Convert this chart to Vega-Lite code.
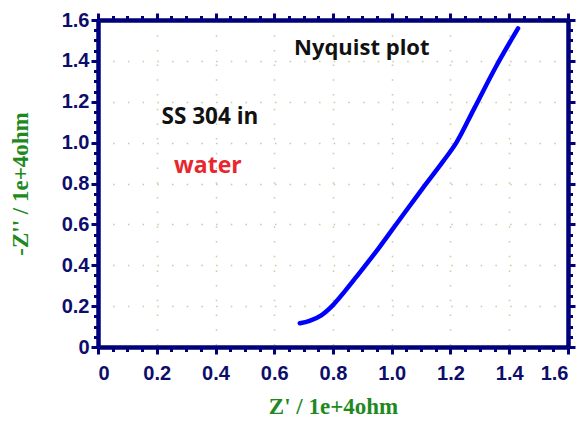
{
  "$schema": "https://vega.github.io/schema/vega-lite/v6.json",
  "width": 470,
  "height": 327,
  "autosize": {"type": "none"},
  "padding": {"left": 98, "top": 20, "right": 20, "bottom": 77},
  "background": "white",
  "datasets": {
    "curve": [
      {"zr": 0.687, "zi": 0.116},
      {"zr": 0.72, "zi": 0.128},
      {"zr": 0.76, "zi": 0.155},
      {"zr": 0.80, "zi": 0.205},
      {"zr": 0.84, "zi": 0.272},
      {"zr": 0.88, "zi": 0.344},
      {"zr": 0.959, "zi": 0.49},
      {"zr": 1.027, "zi": 0.624},
      {"zr": 1.107, "zi": 0.78},
      {"zr": 1.174, "zi": 0.907},
      {"zr": 1.22, "zi": 1.0},
      {"zr": 1.28, "zi": 1.165},
      {"zr": 1.356, "zi": 1.375},
      {"zr": 1.43, "zi": 1.559}
    ],
    "notes": [
      {"zr": 0.898, "zi": 1.463, "label": "Nyquist plot", "kind": "title"},
      {"zr": 0.381, "zi": 1.125, "label": "SS 304 in", "kind": "sample"},
      {"zr": 0.374, "zi": 0.886, "label": "water", "kind": "medium"}
    ]
  },
  "layer": [
    {
      "data": {"name": "curve"},
      "mark": {"type": "line", "color": "#0000ff", "strokeWidth": 4.5, "interpolate": "monotone", "strokeCap": "round", "strokeJoin": "round"},
      "encoding": {
        "x": {
          "field": "zr", "type": "quantitative",
          "scale": {"domain": [0, 1.6], "nice": false, "zero": false},
          "axis": {
            "orient": "bottom", "values": [0, 0.2, 0.4, 0.6, 0.8, 1.0, 1.2, 1.4, 1.6],
            "title": "Z' / 1e+4ohm",
            "labelExpr": "datum.value == 0 ? '0' : format(datum.value, '.1f')",
            "grid": true, "gridColor": "#c9c9a3", "gridDash": [1.5, 13.2], "gridWidth": 1.5,
            "domainColor": "#00007a", "domainWidth": 4.5,
            "tickColor": "#00007a", "tickWidth": 3, "tickSize": 7,
            "labelFont": "Liberation Sans", "labelFontWeight": "bold", "labelFontSize": 20, "labelColor": "#0d0d6b", "labelPadding": 9,
            "titleFont": "Liberation Serif", "titleFontWeight": "bold", "titleFontSize": 23, "titleColor": "#1e8a1e", "titlePadding": 12
          }
        },
        "y": {
          "field": "zi", "type": "quantitative",
          "scale": {"domain": [0, 1.6], "nice": false, "zero": false},
          "axis": {
            "orient": "left", "values": [0, 0.2, 0.4, 0.6, 0.8, 1.0, 1.2, 1.4, 1.6],
            "title": "-Z'' / 1e+4ohm",
            "labelExpr": "datum.value == 0 ? '0' : format(datum.value, '.1f')",
            "grid": true, "gridColor": "#c9c9a3", "gridDash": [1.5, 13.2], "gridWidth": 1.5,
            "domainColor": "#00007a", "domainWidth": 4.5,
            "tickColor": "#00007a", "tickWidth": 3, "tickSize": 7,
            "labelFont": "Liberation Sans", "labelFontWeight": "bold", "labelFontSize": 20, "labelColor": "#0d0d6b", "labelPadding": 2,
            "titleFont": "Liberation Serif", "titleFontWeight": "bold", "titleFontSize": 23, "titleColor": "#1e8a1e", "titlePadding": 29
          }
        }
      }
    },
    {
      "data": {"name": "curve"},
      "mark": {"type": "point", "opacity": 0},
      "encoding": {
        "x": {"field": "zr", "type": "quantitative",
          "axis": {"orient": "top", "values": [0, 0.2, 0.4, 0.6, 0.8, 1.0, 1.2, 1.4, 1.6], "labels": false, "title": null, "grid": false,
            "domainColor": "#00007a", "domainWidth": 4.5, "tickColor": "#00007a", "tickWidth": 3, "tickSize": 7}},
        "y": {"field": "zi", "type": "quantitative",
          "axis": {"orient": "right", "values": [0, 0.2, 0.4, 0.6, 0.8, 1.0, 1.2, 1.4, 1.6], "labels": false, "title": null, "grid": false,
            "domainColor": "#00007a", "domainWidth": 4.5, "tickColor": "#00007a", "tickWidth": 3, "tickSize": 7}}
      }
    },
    {
      "data": {"name": "curve"},
      "mark": {"type": "point", "opacity": 0},
      "encoding": {
        "x": {"field": "zr", "type": "quantitative",
          "axis": {"orient": "bottom", "values": [0.05, 0.1, 0.15, 0.25, 0.3, 0.35, 0.45, 0.5, 0.55, 0.65, 0.7, 0.75, 0.85, 0.9, 0.95, 1.05, 1.1, 1.15, 1.25, 1.3, 1.35, 1.45, 1.5, 1.55], "labels": false, "title": null, "grid": false, "domain": false,
            "tickColor": "#00007a", "tickWidth": 3, "tickSize": 4.5}},
        "y": {"field": "zi", "type": "quantitative",
          "axis": {"orient": "left", "values": [0.05, 0.1, 0.15, 0.25, 0.3, 0.35, 0.45, 0.5, 0.55, 0.65, 0.7, 0.75, 0.85, 0.9, 0.95, 1.05, 1.1, 1.15, 1.25, 1.3, 1.35, 1.45, 1.5, 1.55], "labels": false, "title": null, "grid": false, "domain": false,
            "tickColor": "#00007a", "tickWidth": 3, "tickSize": 4.5}}
      }
    },
    {
      "data": {"name": "curve"},
      "mark": {"type": "point", "opacity": 0},
      "encoding": {
        "x": {"field": "zr", "type": "quantitative",
          "axis": {"orient": "top", "values": [0.05, 0.1, 0.15, 0.25, 0.3, 0.35, 0.45, 0.5, 0.55, 0.65, 0.7, 0.75, 0.85, 0.9, 0.95, 1.05, 1.1, 1.15, 1.25, 1.3, 1.35, 1.45, 1.5, 1.55], "labels": false, "title": null, "grid": false, "domain": false,
            "tickColor": "#00007a", "tickWidth": 3, "tickSize": 4.5}},
        "y": {"field": "zi", "type": "quantitative",
          "axis": {"orient": "right", "values": [0.05, 0.1, 0.15, 0.25, 0.3, 0.35, 0.45, 0.5, 0.55, 0.65, 0.7, 0.75, 0.85, 0.9, 0.95, 1.05, 1.1, 1.15, 1.25, 1.3, 1.35, 1.45, 1.5, 1.55], "labels": false, "title": null, "grid": false, "domain": false,
            "tickColor": "#00007a", "tickWidth": 3, "tickSize": 4.5}}
      }
    },
    {
      "data": {"name": "notes"},
      "mark": {"type": "text", "font": "Open Sans", "fontWeight": "bold", "align": "center", "baseline": "middle"},
      "encoding": {
        "x": {"field": "zr", "type": "quantitative", "axis": null},
        "y": {"field": "zi", "type": "quantitative", "axis": null},
        "text": {"field": "label"},
        "color": {"field": "kind", "type": "nominal", "scale": {"domain": ["title", "sample", "medium"], "range": ["#111111", "#111111", "#e8262e"]}, "legend": null},
        "size": {"field": "kind", "type": "nominal", "scale": {"domain": ["title", "sample", "medium"], "range": [22, 23, 20]}, "legend": null}
      }
    }
  ],
  "resolve": {"axis": {"x": "independent", "y": "independent"}},
  "config": {"view": {"stroke": null}}
}
